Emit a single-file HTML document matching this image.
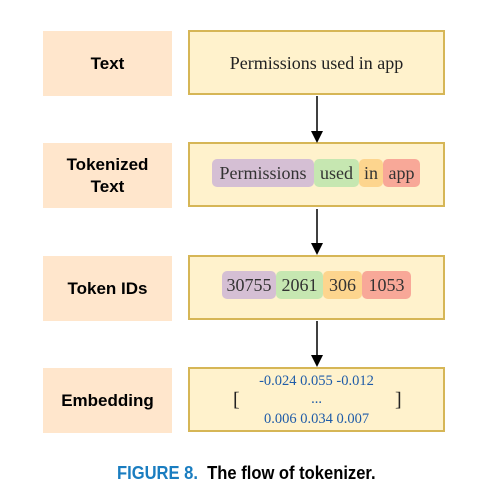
<!DOCTYPE html>
<html><head><style>
body{margin:0;width:500px;height:497px;background:#fff;position:relative;overflow:hidden}
.l{position:absolute;left:43px;width:129px;height:65px;background:#ffe6cc;display:flex;align-items:center;justify-content:center;text-align:center;font:bold 17px/22px "Liberation Sans",sans-serif;color:#000}
.r{position:absolute;left:188px;width:253px;height:61px;background:#fff2cc;border:2px solid #d6b656;font-family:"Liberation Serif",serif;color:#333}
.t{position:absolute;height:28px;border-radius:5px;font:18px/28px "Liberation Serif",serif;color:#333;text-align:center}
.p{background:#d5bfd4}.g{background:#c6e7b1}.o{background:#fdd58e}.d{background:#f8a898}
.e{position:absolute;width:100%;text-align:center;color:#1f5ca8;font-size:14.5px}
</style></head><body>
<div class="l" style="top:31px">Text</div>
<div class="l" style="top:143px">Tokenized<br>Text</div>
<div class="l" style="top:256px">Token IDs</div>
<div class="l" style="top:368px">Embedding</div>
<div class="r" style="top:30px"><div style="text-align:center;font-size:18px;line-height:63px;color:#222">Permissions used in app</div></div>
<div class="r" style="top:142px"></div>
<div class="r" style="top:255px"></div>
<div class="r" style="top:367px">
<div class="e" style="top:4px">-0.024 0.055 -0.012</div>
<div class="e" style="top:22px">...</div>
<div class="e" style="top:42px">0.006 0.034 0.007</div>
<div style="position:absolute;left:43px;top:20px;font-size:20px;color:#222">[</div>
<div style="position:absolute;left:205px;top:20px;font-size:20px;color:#222">]</div>
</div>
<div class="t p" style="left:212px;top:159px;width:102px">Permissions</div>
<div class="t g" style="left:314px;top:159px;width:45px">used</div>
<div class="t o" style="left:359px;top:159px;width:24px">in</div>
<div class="t d" style="left:383px;top:159px;width:37px">app</div>
<div class="t p" style="left:222px;top:271px;width:54px">30755</div>
<div class="t g" style="left:276px;top:271px;width:47px">2061</div>
<div class="t o" style="left:323px;top:271px;width:39px">306</div>
<div class="t d" style="left:362px;top:271px;width:49px">1053</div>
<svg width="500" height="497" style="position:absolute;left:0;top:0">
<g stroke="#000" stroke-width="1.5"><line x1="317" y1="96" x2="317" y2="134"/><line x1="317" y1="209" x2="317" y2="246"/><line x1="317" y1="321" x2="317" y2="358"/></g>
<g fill="#000"><path d="M311 131 L317 143 L323 131 Z"/><path d="M311 243 L317 255 L323 243 Z"/><path d="M311 355 L317 367 L323 355 Z"/></g>
</svg>
<div style="position:absolute;left:117px;top:463px;font:bold 18px/20px 'Liberation Sans',sans-serif;white-space:nowrap;transform:scaleX(0.92);transform-origin:left"><span style="color:#1a7dc0">FIGURE 8.</span>&nbsp; The flow of tokenizer.</div>
</body></html>
